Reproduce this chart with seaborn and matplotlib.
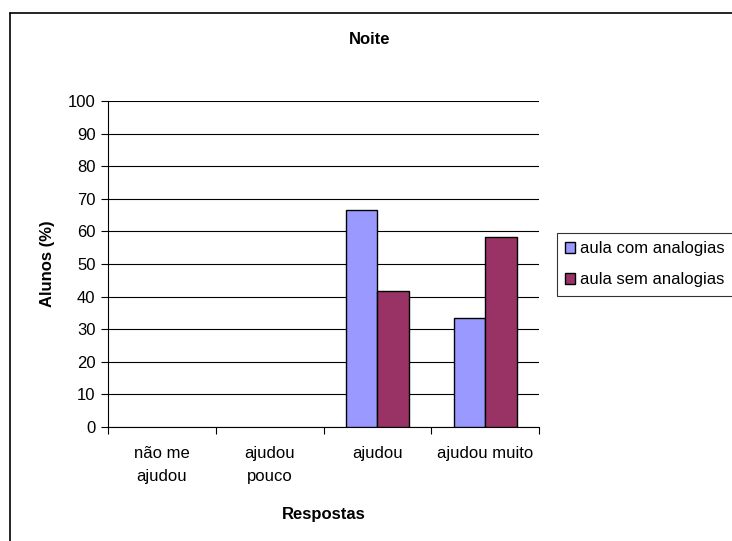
import matplotlib
matplotlib.use("Agg")
import matplotlib.pyplot as plt
import seaborn as sns
import pandas as pd
from matplotlib.lines import Line2D

categories = ["não me\najudou", "ajudou\npouco", "ajudou", "ajudou muito"]
series_names = ["aula com analogias", "aula sem analogias"]
com_analogias = [0, 0, 66.7, 33.3]
sem_analogias = [0, 0, 41.7, 58.3]
y_ticks = [0, 10, 20, 30, 40, 50, 60, 70, 80, 90, 100]
colors = ["#9999FF", "#993366"]

df = pd.DataFrame({
    "Respostas": categories * 2,
    "serie": [series_names[0]] * 4 + [series_names[1]] * 4,
    "valor": com_analogias + sem_analogias,
})

sns.set_theme(style="white")
plt.rcParams["font.family"] = ["Liberation Sans", "DejaVu Sans"]
plt.rcParams["text.color"] = "black"
plt.rcParams["axes.labelcolor"] = "black"
plt.rcParams["xtick.color"] = "black"
plt.rcParams["ytick.color"] = "black"

fs = 12

fig = plt.figure(figsize=(7.32, 5.41), dpi=100)
ax = fig.add_axes([108 / 732, 1 - 427 / 541, 431 / 732, 326 / 541])

sns.barplot(data=df, x="Respostas", y="valor", hue="serie", order=categories,
            hue_order=series_names, palette=colors, width=0.585,
            edgecolor="black", linewidth=1.0, saturation=1, ax=ax, zorder=3)

# empty bars leave no outline on the axis
for bar in ax.patches:
    if bar.get_height() == 0:
        bar.set_linewidth(0)

ax.set_ylim(0, 100)
ax.set_xlim(-0.5, 3.5)
ax.set_yticks(y_ticks)
ax.set_yticklabels([str(t) for t in y_ticks], fontsize=fs)
ax.yaxis.grid(True, color="black", linewidth=0.8, zorder=0)
ax.set_axisbelow(True)
ax.tick_params(axis="y", direction="out", length=5, width=0.8, color="black",
               left=True, pad=4)
ax.set_xticks(range(4))
ax.set_xticklabels(categories, fontsize=fs, linespacing=1.6)
ax.tick_params(axis="x", which="major", length=0, pad=14)
ax.set_xticks([-0.5, 0.5, 1.5, 2.5, 3.5], minor=True)
ax.tick_params(axis="x", which="minor", direction="out", length=5, width=0.8,
               color="black", bottom=True)

for side in ["top", "right"]:
    ax.spines[side].set_visible(False)
for side in ["left", "bottom"]:
    ax.spines[side].set_color("black")
    ax.spines[side].set_linewidth(0.8)

ax.set_xlabel("Respostas", fontsize=fs, fontweight="bold", labelpad=17)
ax.set_ylabel("Alunos (%)", fontsize=fs, fontweight="bold", labelpad=9)

fig.text(0.505, 1 - 40 / 541, "Noite", ha="center", va="center",
         fontsize=fs, fontweight="bold")

handles, labels = ax.get_legend_handles_labels()
leg = ax.legend(handles, labels, loc="upper left",
                bbox_to_anchor=(557 / 732, 1 - 233 / 541), bbox_transform=fig.transFigure,
                frameon=True, fancybox=False, edgecolor="black", fontsize=fs,
                handlelength=0.6, handleheight=0.6, handletextpad=0.3,
                borderpad=0.5, labelspacing=0.95, borderaxespad=0)
leg.get_frame().set_linewidth(0.8)
for h in leg.legend_handles:
    h.set_edgecolor("black")
    h.set_linewidth(1.0)

# outer frame of the chart area (only left and top edges fall inside)
fig.add_artist(Line2D([10 / 732, 10 / 732], [0, 1 - 13 / 541], color="black",
                      linewidth=1.2, transform=fig.transFigure))
fig.add_artist(Line2D([10 / 732, 1], [1 - 13 / 541, 1 - 13 / 541], color="black",
                      linewidth=1.2, transform=fig.transFigure))

fig.savefig("out.png", dpi=100, facecolor="white")
